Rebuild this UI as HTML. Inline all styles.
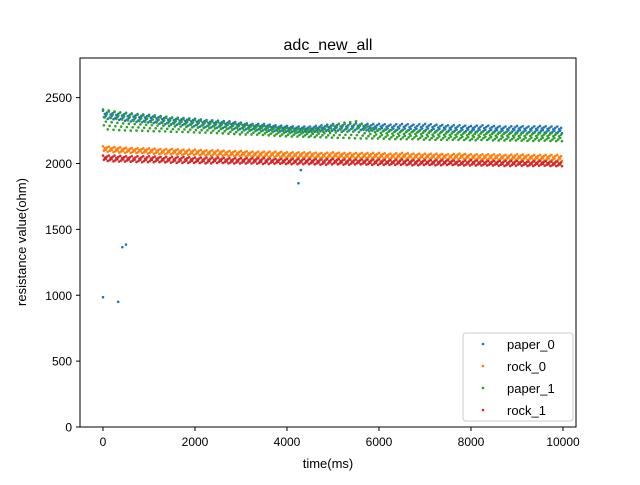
<!DOCTYPE html>
<html><head><meta charset="utf-8"><style>
body{margin:0;background:#fff}
svg text{font-family:"Liberation Sans","DejaVu Sans",sans-serif;fill:#000}
</style></head><body>
<svg id="chart" width="640" height="480" xmlns="http://www.w3.org/2000/svg">
<rect width="640" height="480" fill="#fff"/>
<text x="328" y="50" font-size="16" text-anchor="middle">adc_new_all</text>
<g id="marks"></g>
<rect x="80" y="58" width="496" height="369" fill="none" stroke="#000" stroke-width="1"/>
<g id="axes"></g>
<text x="328" y="468" font-size="13" text-anchor="middle">time(ms)</text>
<text x="26" y="242" font-size="13" text-anchor="middle" transform="rotate(-90 26 242)">resistance value(ohm)</text>
<g id="legend"></g>
</svg>
<script>
const times=[0,250,500,750,1000,1250,1500,1750,2000,2250,2500,2750,3000,3250,3500,3750,4000,4250,4500,4750,5000,5250,5500,5750,6000,6250,6500,6750,7000,7250,7500,7750,8000,8250,8500,8750,9000,9250,9500,9750];
const paper0A=[2400,2390,2385,2375,2370,2360,2350,2345,2340,2330,2325,2320,2310,2300,2300,2290,2285,2280,2280,2290,2300,2300,2305,2300,2300,2295,2300,2295,2300,2295,2290,2290,2285,2290,2285,2280,2285,2280,2285,2280];
const paper0B=[2340,2335,2320,2315,2310,2300,2295,2290,2280,2275,2270,2265,2260,2255,2250,2245,2240,2235,2240,2245,2250,2250,2255,2250,2250,2245,2245,2240,2245,2240,2240,2235,2240,2235,2235,2230,2235,2230,2235,2230];
const paper0Outliers=[[0,985],[330,950],[420,1365],[500,1385],[4250,1850],[4300,1950]];
const rock0A=[2130,2125,2120,2115,2115,2110,2110,2105,2105,2100,2100,2095,2095,2090,2090,2090,2085,2085,2085,2080,2085,2080,2080,2080,2080,2075,2080,2075,2075,2075,2070,2075,2070,2070,2070,2065,2070,2065,2065,2065];
const rock0B=[2090,2085,2080,2080,2075,2070,2070,2065,2065,2060,2060,2055,2055,2050,2050,2050,2045,2045,2045,2040,2045,2040,2040,2040,2040,2035,2040,2035,2035,2035,2030,2035,2030,2030,2030,2025,2030,2025,2025,2020];
const paper1A=[2410,2395,2380,2370,2360,2350,2345,2335,2330,2320,2315,2305,2300,2290,2285,2275,2270,2265,2260,2270,2290,2310,2320,2280,2260,2255,2250,2250,2245,2245,2240,2240,2235,2240,2235,2235,2230,2235,2230,2230];
const paper1B=[2260,2255,2250,2250,2245,2245,2240,2240,2235,2235,2230,2225,2220,2220,2215,2210,2205,2205,2200,2200,2195,2195,2190,2190,2190,2185,2185,2185,2180,2180,2180,2180,2175,2180,2175,2175,2175,2170,2175,2170];
const rock1A=[2060,2060,2055,2055,2055,2050,2050,2050,2045,2045,2045,2040,2040,2040,2040,2035,2035,2035,2035,2030,2035,2030,2030,2030,2030,2025,2030,2025,2025,2025,2025,2020,2025,2020,2020,2020,2020,2015,2020,2015];
const rock1B=[2020,2015,2015,2010,2010,2010,2005,2005,2005,2000,2005,2000,2000,2000,1995,2000,1995,1995,1995,1990,1995,1990,1995,1990,1990,1990,1990,1985,1990,1985,1990,1985,1985,1985,1985,1980,1985,1980,1985,1980];
const xTicks=[0,2000,4000,6000,8000,10000];
const yTicks=[0,500,1000,1500,2000,2500];
const seriesNames=["paper_0","rock_0","paper_1","rock_1"];
const colors=["#1f77b4","#ff7f0e","#2ca02c","#d62728"];

const NS="http://www.w3.org/2000/svg";
function sx(t){return 103+(t-0)*0.046;}
function sy(v){return 427-v*0.13175;}
const marks=document.getElementById('marks');
function dot(x,y,c,name){
  const e=document.createElementNS(NS,'circle');
  e.setAttribute('cx',sx(x));e.setAttribute('cy',sy(y));e.setAttribute('r',1.3);e.setAttribute('fill',c);
  
  
  marks.appendChild(e);
}
function band(A,B,c,name){
  const fr=[0,0.25,0.5,0.75];
  const lv=[0,0.2,0.4,0.6,0.8,1];
  A.forEach((a,i)=>{
    const b=B[i];
    const a2=A[i+1]!==undefined?A[i+1]:a, b2=B[i+1]!==undefined?B[i+1]:b;
    fr.forEach((f,k)=>{
      const top=a+(a2-a)*f, bot=b+(b2-b)*f;
      lv.forEach((l,j)=>{
        if((j+k)%2===0) dot(times[i]+250*f+(j%3)*20,top+(bot-top)*l,c,name);
      });
    });
  });
}
band(paper0A,paper0B,colors[0],'point-paper-0');
paper0Outliers.forEach(p=>dot(p[0],p[1],colors[0],'point-paper-0'));
band(rock0A,rock0B,colors[1],'point-rock-0');
band(paper1A,paper1B,colors[2],'point-paper-1');
band(rock1A,rock1B,colors[3],'point-rock-1');

const axes=document.getElementById('axes');
xTicks.forEach(t=>{
  const l=document.createElementNS(NS,'line');
  l.setAttribute('x1',sx(t));l.setAttribute('x2',sx(t));l.setAttribute('y1',427);l.setAttribute('y2',431);l.setAttribute('stroke','#000');
  
  
  axes.appendChild(l);
  const tx=document.createElementNS(NS,'text');
  tx.setAttribute('x',sx(t));tx.setAttribute('y',446);tx.setAttribute('font-size','12');tx.setAttribute('text-anchor','middle');
  tx.textContent=t;
  
  
  axes.appendChild(tx);
});
yTicks.forEach(v=>{
  const l=document.createElementNS(NS,'line');
  l.setAttribute('x1',76);l.setAttribute('x2',80);l.setAttribute('y1',sy(v));l.setAttribute('y2',sy(v));l.setAttribute('stroke','#000');
  
  
  axes.appendChild(l);
  const tx=document.createElementNS(NS,'text');
  tx.setAttribute('x',72);tx.setAttribute('y',sy(v)+4.5);tx.setAttribute('font-size','12');tx.setAttribute('text-anchor','end');
  tx.textContent=v;
  
  
  axes.appendChild(tx);
});
const lg=document.getElementById('legend');
const box=document.createElementNS(NS,'rect');
box.setAttribute('x',463);box.setAttribute('y',333);box.setAttribute('width',110);box.setAttribute('height',88);box.setAttribute('rx',3);
box.setAttribute('fill','#fff');box.setAttribute('fill-opacity','0.8');box.setAttribute('stroke','#ccc');


lg.appendChild(box);
seriesNames.forEach((n,i)=>{
  const y=344+i*22;
  const c=document.createElementNS(NS,'circle');
  c.setAttribute('cx',483);c.setAttribute('cy',y);c.setAttribute('r',1.3);c.setAttribute('fill',colors[i]);
  
  
  lg.appendChild(c);
  const t=document.createElementNS(NS,'text');
  t.setAttribute('x',507);t.setAttribute('y',y+5);t.setAttribute('font-size','13');
  t.textContent=n;
  
  
  lg.appendChild(t);
});
</script>
</body></html>
